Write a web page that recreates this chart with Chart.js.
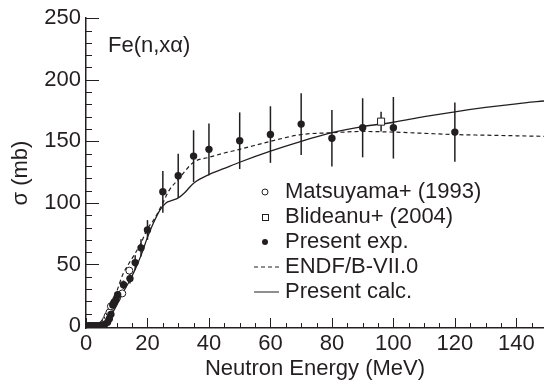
<!DOCTYPE html>
<html>
<head>
<meta charset="utf-8">
<script src="https://cdn.jsdelivr.net/npm/chart.js@4/dist/chart.umd.min.js"></script>
<style>
  html, body { margin: 0; padding: 0; background: #fff; }
</style>
</head>
<body>
<canvas id="chart" width="544" height="389"></canvas>
<script>
// Fe(n,xa) cross section vs neutron energy
const expE   = [0.5, 1, 1.5, 2, 2.5, 3, 3.5, 4, 4.5, 5, 5.5, 6, 7, 7.6, 8.1, 8.7, 9.2, 9.8, 10.3, 12.2, 14.3, 16, 17.9, 20, 25, 30, 35, 40, 50, 60, 70, 80, 90, 100, 120];
const expSig = [0, 0, 0, 0, 0, 0, 0, 0, 0, 0.3, 0.6, 1, 3, 6, 9.5, 17, 19.5, 21.5, 25.5, 33.5, 38.5, 51.5, 63.5, 78, 109, 122, 138, 143.5, 150.5, 155.5, 164, 152.5, 161, 161, 157.5];
const expErr = [1, 1, 1, 1, 1, 1, 1, 1, 1, 1, 1, 1, 1.5, 2, 2, 2.5, 2.5, 3, 3, 3.5, 4, 6, 7, 8, 17, 18, 21, 21, 23, 23, 25, 23, 24, 25, 24];

const matsE   = [1, 2, 3, 4, 5, 5.5, 6, 6.5, 7, 7.6, 8.1, 8.9, 10.1, 11.8, 14.1];
const matsSig = [0, 0, 0, 0, 0.5, 1.5, 3, 5, 8, 11, 16, 18, 23, 26.5, 45];

const blidE   = [96];
const blidSig = [166];
const blidErr = [8];

const endfE   = [4, 5, 6, 7, 8, 10, 12, 14, 16, 18, 20, 22, 25, 27, 30, 35, 40, 45, 50, 60, 70, 80, 90, 100, 110, 120, 130, 140, 150];
const endfSig = [0, 0.5, 3, 8, 14, 28, 42, 51, 59, 68, 79, 86, 100, 110, 119, 133, 137, 140.5, 143.5, 150, 155.5, 157, 158, 157.5, 156.5, 155.5, 155, 154.5, 154];

const calcE   = [4, 5, 6, 7, 8, 10, 12, 14, 16, 18, 20, 22, 24, 26, 28, 30, 32, 35, 40, 45, 50, 60, 70, 80, 90, 100, 110, 120, 130, 140, 150];
const calcSig = [0, 0.3, 1, 4, 8, 17, 27, 36, 46, 58, 72, 84, 94, 100, 102, 104, 108, 116, 123, 128, 133, 142, 150, 157, 162, 165.5, 170, 174, 177.5, 180.5, 183];

const xTicks = [0, 20, 40, 60, 80, 100, 120, 140];
const yTicks = [0, 50, 100, 150, 200, 250];

const ink = '#231f20';
const font = 'Liberation Sans, Arial, Helvetica, sans-serif';
const fsize = 22;

function pts(xs, ys) {
    return xs.map((v, i) => ({x: v, y: ys[i]}));
}

// inward tick marks, like the original ROOT frame
const frameTicks = {
    id: 'frameTicks',
    afterDraw(chart) {
        const {ctx, chartArea: a, scales: {x, y}} = chart;
        ctx.save();
        ctx.strokeStyle = ink;
        ctx.lineWidth = 1;
        for (let v = 0; v <= x.max; v += 5) {
            const px = Math.round(x.getPixelForValue(v)) + 0.5;
            const len = v % 20 === 0 ? 10 : 5;
            ctx.beginPath();
            ctx.moveTo(px, a.bottom);
            ctx.lineTo(px, a.bottom - len);
            ctx.stroke();
        }
        for (let v = 0; v <= y.max; v += 10) {
            const py = Math.round(y.getPixelForValue(v)) + 0.5;
            const len = v % 50 === 0 ? 13 : 6;
            ctx.beginPath();
            ctx.moveTo(a.left, py);
            ctx.lineTo(a.left + len, py);
            ctx.stroke();
        }
        ctx.restore();
    }
};

// vertical error bars
const errorBars = {
    id: 'errorBars',
    beforeDatasetsDraw(chart) {
        const {ctx, scales: {x, y}} = chart;
        ctx.save();
        ctx.strokeStyle = ink;
        ctx.lineWidth = 1.5;
        const draw = (xs, ys, es) => {
            xs.forEach((v, i) => {
                const px = x.getPixelForValue(v);
                ctx.beginPath();
                ctx.moveTo(px, y.getPixelForValue(ys[i] - es[i]));
                ctx.lineTo(px, y.getPixelForValue(ys[i] + es[i]));
                ctx.stroke();
            });
        };
        draw(expE, expSig, expErr);
        draw(blidE, blidSig, blidErr);
        ctx.restore();
    }
};

// legend and reaction label drawn inside the frame
const innerLegend = {
    id: 'innerLegend',
    afterDraw(chart) {
        const ctx = chart.ctx;
        ctx.save();
        ctx.fillStyle = ink;
        ctx.font = fsize + 'px ' + font;
        ctx.textBaseline = 'middle';
        ctx.fillText('Fe(n,x\u03b1)', 108, 46);

        const mx = 265, tx = 285;
        chart.data.datasets.forEach((ds, i) => {
            const cy = 192 + i * 25;
            ctx.strokeStyle = ink;
            ctx.fillStyle = ink;
            ctx.lineWidth = 1;
            if (ds.showLine) {
                ctx.setLineDash(ds.borderDash || []);
                ctx.beginPath();
                ctx.moveTo(254, cy);
                ctx.lineTo(279, cy);
                ctx.stroke();
                ctx.setLineDash([]);
            } else if (ds.pointStyle === 'rect') {
                ctx.fillStyle = '#fff';
                ctx.fillRect(mx - 3, cy - 3, 6, 6);
                ctx.strokeRect(mx - 3 + 0.5, cy - 3 + 0.5, 6, 6);
            } else {
                ctx.beginPath();
                ctx.arc(mx, cy, 3, 0, Math.PI * 2);
                if (ds.pointBackgroundColor === '#fff') ctx.stroke(); else ctx.fill();
            }
            ctx.fillStyle = ink;
            ctx.fillText(ds.label, tx, cy);
        });
        ctx.restore();
    }
};

const chart = new Chart(document.getElementById('chart').getContext('2d'), {
    type: 'scatter',
    data: {
        datasets: [
            {
                label: 'Matsuyama+ (1993)',
                data: pts(matsE, matsSig),
                order: 2,
                pointStyle: 'circle',
                pointRadius: 3.5,
                pointBackgroundColor: '#fff',
                pointBorderColor: ink,
                pointBorderWidth: 1
            },
            {
                label: 'Blideanu+ (2004)',
                data: pts(blidE, blidSig),
                order: 1,
                pointStyle: 'rect',
                pointRadius: 5,
                pointBackgroundColor: '#fff',
                pointBorderColor: ink,
                pointBorderWidth: 1
            },
            {
                label: 'Present exp.',
                data: pts(expE, expSig),
                order: 0,
                pointStyle: 'circle',
                pointRadius: 3.7,
                pointBackgroundColor: ink,
                pointBorderColor: ink,
                pointBorderWidth: 0
            },
            {
                label: 'ENDF/B-VII.0',
                data: pts(endfE, endfSig),
                order: 3,
                showLine: true,
                borderColor: ink,
                borderWidth: 1.2,
                borderDash: [4, 3],
                cubicInterpolationMode: 'monotone',
                pointRadius: 0
            },
            {
                label: 'Present calc.',
                data: pts(calcE, calcSig),
                order: 4,
                showLine: true,
                borderColor: ink,
                borderWidth: 1.3,
                cubicInterpolationMode: 'monotone',
                pointRadius: 0
            }
        ]
    },
    options: {
        responsive: false,
        animation: false,
        layout: { autoPadding: false, padding: { top: 15, right: 0, left: 0, bottom: 0 } },
        plugins: {
            legend: { display: false },
            tooltip: { enabled: false }
        },
        scales: {
            x: {
                type: 'linear',
                min: 0,
                max: 149,
                afterFit: function(scale) { scale.height = 61; },
                afterBuildTicks: function(scale) { scale.ticks = xTicks.map(v => ({value: v})); },
                grid: { display: false, drawTicks: false },
                border: { display: true, color: ink, width: 1.5 },
                ticks: { color: ink, padding: 3, maxRotation: 0, font: { family: font, size: fsize } },
                title: {
                    display: true,
                    text: 'Neutron Energy (MeV)',
                    color: ink,
                    padding: { top: 0, bottom: 7 },
                    font: { family: font, size: fsize }
                }
            },
            y: {
                type: 'linear',
                min: -1.6,
                max: 250,
                afterFit: function(scale) { scale.width = 86; },
                afterBuildTicks: function(scale) { scale.ticks = yTicks.map(v => ({value: v})); },
                grid: { display: false, drawTicks: false },
                border: { display: true, color: ink, width: 1.5 },
                ticks: { color: ink, padding: 5, font: { family: font, size: fsize } },
                title: {
                    display: true,
                    text: '\u03c3 (mb)',
                    color: ink,
                    padding: { top: 8, bottom: 0 },
                    font: { family: font, size: fsize }
                }
            }
        }
    },
    plugins: [errorBars, frameTicks, innerLegend]
});
</script>
</body>
</html>
